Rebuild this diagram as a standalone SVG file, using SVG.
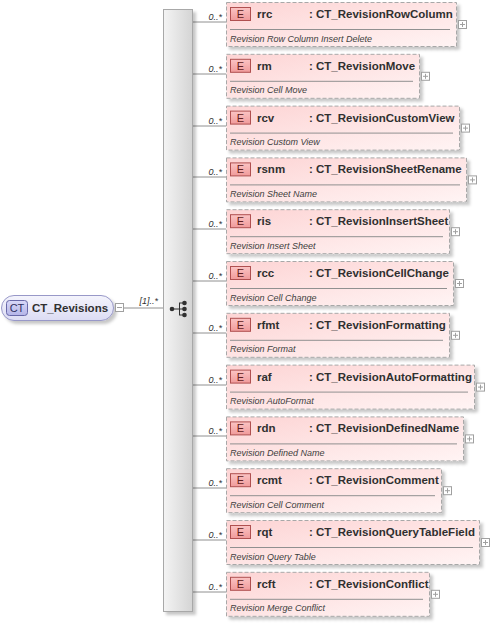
<svg xmlns="http://www.w3.org/2000/svg" width="490" height="623" viewBox="0 0 490 623">
<defs>
<linearGradient id="gEl" x1="0" y1="0" x2="1" y2="1"><stop offset="0" stop-color="#fdd4d4"/><stop offset="1" stop-color="#fff4f4"/></linearGradient>
<linearGradient id="gBadge" x1="0" y1="0" x2="0" y2="1"><stop offset="0" stop-color="#fbc4c4"/><stop offset="1" stop-color="#f09a9a"/></linearGradient>
<linearGradient id="gBar" x1="0" y1="0" x2="1" y2="0"><stop offset="0" stop-color="#f4f4f4"/><stop offset="1" stop-color="#d4d4d4"/></linearGradient>
<linearGradient id="gCT" x1="0" y1="0" x2="0" y2="1"><stop offset="0" stop-color="#f4f4fc"/><stop offset="1" stop-color="#dcdcf4"/></linearGradient>
<linearGradient id="gCTb" x1="0" y1="0" x2="0" y2="1"><stop offset="0" stop-color="#d8d8f8"/><stop offset="1" stop-color="#b4b4e8"/></linearGradient>
<filter id="sh" x="-10%" y="-10%" width="130%" height="140%"><feDropShadow dx="3" dy="3" stdDeviation="1.5" flood-color="#000" flood-opacity="0.22"/></filter>
</defs>
<style>
.el{fill:url(#gEl);stroke:#a8a8a8;stroke-width:1;stroke-dasharray:4,2;filter:url(#sh)}
.badge{fill:url(#gBadge);stroke:#b05050;stroke-width:1}
.bt{font-family:"Liberation Sans",Arial,sans-serif;font-size:11px;fill:#602020;text-anchor:middle}
.nm{font-family:"Liberation Sans",Arial,sans-serif;font-size:11.5px;font-weight:bold;fill:#303030}
.ds{font-family:"Liberation Sans",Arial,sans-serif;font-size:9px;font-style:italic;fill:#404040}
.sep{stroke:#909090;stroke-width:1}
.pl{fill:#fff;stroke:#a0a0a0;stroke-width:1}
.plx{stroke:#a0a0a0;stroke-width:1}
.cn{stroke:#909090;stroke-width:1;fill:none}
.oc{font-family:"Liberation Sans",Arial,sans-serif;font-size:9px;font-style:italic;fill:#303030;text-anchor:end}
</style>
<g id="connectors">
<line class="cn" x1="124" y1="308" x2="163" y2="308"/>
<line class="cn" x1="192" y1="22" x2="226" y2="22"/>
<line class="cn" x1="192" y1="74" x2="226" y2="74"/>
<line class="cn" x1="192" y1="126" x2="226" y2="126"/>
<line class="cn" x1="192" y1="177" x2="226" y2="177"/>
<line class="cn" x1="192" y1="229" x2="226" y2="229"/>
<line class="cn" x1="192" y1="281" x2="226" y2="281"/>
<line class="cn" x1="192" y1="333" x2="226" y2="333"/>
<line class="cn" x1="192" y1="385" x2="226" y2="385"/>
<line class="cn" x1="192" y1="436" x2="226" y2="436"/>
<line class="cn" x1="192" y1="488" x2="226" y2="488"/>
<line class="cn" x1="192" y1="540" x2="226" y2="540"/>
<line class="cn" x1="192" y1="592" x2="226" y2="592"/>
<text class="oc" x="158" y="304">[1]..*</text>
<text class="oc" x="222" y="20">0..*</text>
<text class="oc" x="222" y="72">0..*</text>
<text class="oc" x="222" y="124">0..*</text>
<text class="oc" x="222" y="175">0..*</text>
<text class="oc" x="222" y="227">0..*</text>
<text class="oc" x="222" y="279">0..*</text>
<text class="oc" x="222" y="331">0..*</text>
<text class="oc" x="222" y="383">0..*</text>
<text class="oc" x="222" y="434">0..*</text>
<text class="oc" x="222" y="486">0..*</text>
<text class="oc" x="222" y="538">0..*</text>
<text class="oc" x="222" y="590">0..*</text>
</g>
<g id="CT_Revisions">
<rect x="1.5" y="295.5" width="112" height="25" rx="12.5" fill="url(#gCT)" stroke="#9898c8" filter="url(#sh)"/>
<rect x="6.5" y="300.5" width="21" height="15" rx="3" fill="url(#gCTb)" stroke="#6868a8"/>
<text x="17" y="312" font-family="'Liberation Sans',Arial,sans-serif" font-size="11" fill="#303060" text-anchor="middle">CT</text>
<text class="nm" x="32" y="312">CT_Revisions</text>
<rect class="pl" x="115.5" y="303.5" width="8" height="8"/>
<line class="plx" x1="117" y1="307.5" x2="122" y2="307.5"/>
</g>
<g id="sequence">
<rect x="163.5" y="9.5" width="29" height="602" fill="url(#gBar)" stroke="#a8a8a8" filter="url(#sh)"/>
<circle cx="172" cy="309" r="2.3" fill="#303030"/>
<line x1="172" y1="309" x2="179" y2="309" stroke="#303030"/>
<line x1="179.5" y1="303" x2="179.5" y2="315" stroke="#303030"/>
<line x1="179" y1="303" x2="184" y2="303" stroke="#303030"/>
<line x1="179" y1="315" x2="184" y2="315" stroke="#303030"/>
<line x1="179" y1="309" x2="184" y2="309" stroke="#303030"/>
<circle cx="184.5" cy="303" r="2.3" fill="#303030"/>
<circle cx="184.5" cy="309" r="2.3" fill="#303030"/>
<circle cx="184.5" cy="315" r="2.3" fill="#303030"/>
</g>
<g id="rrc" transform="translate(0,2)">
<rect class="el" x="226.5" y="0.5" width="230" height="44"/>
<rect class="badge" x="230.5" y="5.5" width="20" height="13"/><text class="bt" x="240.5" y="16">E</text>
<text class="nm" x="257" y="16">rrc</text><text class="nm" x="309" y="16">: CT_RevisionRowColumn</text>
<line class="sep" x1="230" y1="27.5" x2="450" y2="27.5"/>
<text class="ds" x="230" y="39.5">Revision Row Column Insert Delete</text>
<rect class="pl" x="458.5" y="18.5" width="8" height="8"/><line class="plx" x1="460" y1="22.5" x2="465" y2="22.5"/><line class="plx" x1="462.5" y1="20" x2="462.5" y2="25"/>
</g>
<g id="rm" transform="translate(0,53.8)">
<rect class="el" x="226.5" y="0.5" width="193" height="44"/>
<rect class="badge" x="230.5" y="5.5" width="20" height="13"/><text class="bt" x="240.5" y="16">E</text>
<text class="nm" x="257" y="16">rm</text><text class="nm" x="309" y="16">: CT_RevisionMove</text>
<line class="sep" x1="230" y1="27.5" x2="413" y2="27.5"/>
<text class="ds" x="230" y="39.5">Revision Cell Move</text>
<rect class="pl" x="421.5" y="18.5" width="8" height="8"/><line class="plx" x1="423" y1="22.5" x2="428" y2="22.5"/><line class="plx" x1="425.5" y1="20" x2="425.5" y2="25"/>
</g>
<g id="rcv" transform="translate(0,105.6)">
<rect class="el" x="226.5" y="0.5" width="233" height="44"/>
<rect class="badge" x="230.5" y="5.5" width="20" height="13"/><text class="bt" x="240.5" y="16">E</text>
<text class="nm" x="257" y="16">rcv</text><text class="nm" x="309" y="16">: CT_RevisionCustomView</text>
<line class="sep" x1="230" y1="27.5" x2="453" y2="27.5"/>
<text class="ds" x="230" y="39.5">Revision Custom View</text>
<rect class="pl" x="461.5" y="18.5" width="8" height="8"/><line class="plx" x1="463" y1="22.5" x2="468" y2="22.5"/><line class="plx" x1="465.5" y1="20" x2="465.5" y2="25"/>
</g>
<g id="rsnm" transform="translate(0,157.4)">
<rect class="el" x="226.5" y="0.5" width="240" height="44"/>
<rect class="badge" x="230.5" y="5.5" width="20" height="13"/><text class="bt" x="240.5" y="16">E</text>
<text class="nm" x="257" y="16">rsnm</text><text class="nm" x="309" y="16">: CT_RevisionSheetRename</text>
<line class="sep" x1="230" y1="27.5" x2="460" y2="27.5"/>
<text class="ds" x="230" y="39.5">Revision Sheet Name</text>
<rect class="pl" x="468.5" y="18.5" width="8" height="8"/><line class="plx" x1="470" y1="22.5" x2="475" y2="22.5"/><line class="plx" x1="472.5" y1="20" x2="472.5" y2="25"/>
</g>
<g id="ris" transform="translate(0,209.2)">
<rect class="el" x="226.5" y="0.5" width="223" height="44"/>
<rect class="badge" x="230.5" y="5.5" width="20" height="13"/><text class="bt" x="240.5" y="16">E</text>
<text class="nm" x="257" y="16">ris</text><text class="nm" x="309" y="16">: CT_RevisionInsertSheet</text>
<line class="sep" x1="230" y1="27.5" x2="443" y2="27.5"/>
<text class="ds" x="230" y="39.5">Revision Insert Sheet</text>
<rect class="pl" x="451.5" y="18.5" width="8" height="8"/><line class="plx" x1="453" y1="22.5" x2="458" y2="22.5"/><line class="plx" x1="455.5" y1="20" x2="455.5" y2="25"/>
</g>
<g id="rcc" transform="translate(0,261)">
<rect class="el" x="226.5" y="0.5" width="227" height="44"/>
<rect class="badge" x="230.5" y="5.5" width="20" height="13"/><text class="bt" x="240.5" y="16">E</text>
<text class="nm" x="257" y="16">rcc</text><text class="nm" x="309" y="16">: CT_RevisionCellChange</text>
<line class="sep" x1="230" y1="27.5" x2="447" y2="27.5"/>
<text class="ds" x="230" y="39.5">Revision Cell Change</text>
<rect class="pl" x="455.5" y="18.5" width="8" height="8"/><line class="plx" x1="457" y1="22.5" x2="462" y2="22.5"/><line class="plx" x1="459.5" y1="20" x2="459.5" y2="25"/>
</g>
<g id="rfmt" transform="translate(0,312.8)">
<rect class="el" x="226.5" y="0.5" width="223" height="44"/>
<rect class="badge" x="230.5" y="5.5" width="20" height="13"/><text class="bt" x="240.5" y="16">E</text>
<text class="nm" x="257" y="16">rfmt</text><text class="nm" x="309" y="16">: CT_RevisionFormatting</text>
<line class="sep" x1="230" y1="27.5" x2="443" y2="27.5"/>
<text class="ds" x="230" y="39.5">Revision Format</text>
<rect class="pl" x="451.5" y="18.5" width="8" height="8"/><line class="plx" x1="453" y1="22.5" x2="458" y2="22.5"/><line class="plx" x1="455.5" y1="20" x2="455.5" y2="25"/>
</g>
<g id="raf" transform="translate(0,364.6)">
<rect class="el" x="226.5" y="0.5" width="248" height="44"/>
<rect class="badge" x="230.5" y="5.5" width="20" height="13"/><text class="bt" x="240.5" y="16">E</text>
<text class="nm" x="257" y="16">raf</text><text class="nm" x="309" y="16">: CT_RevisionAutoFormatting</text>
<line class="sep" x1="230" y1="27.5" x2="468" y2="27.5"/>
<text class="ds" x="230" y="39.5">Revision AutoFormat</text>
<rect class="pl" x="476.5" y="18.5" width="8" height="8"/><line class="plx" x1="478" y1="22.5" x2="483" y2="22.5"/><line class="plx" x1="480.5" y1="20" x2="480.5" y2="25"/>
</g>
<g id="rdn" transform="translate(0,416.4)">
<rect class="el" x="226.5" y="0.5" width="237" height="44"/>
<rect class="badge" x="230.5" y="5.5" width="20" height="13"/><text class="bt" x="240.5" y="16">E</text>
<text class="nm" x="257" y="16">rdn</text><text class="nm" x="309" y="16">: CT_RevisionDefinedName</text>
<line class="sep" x1="230" y1="27.5" x2="457" y2="27.5"/>
<text class="ds" x="230" y="39.5">Revision Defined Name</text>
<rect class="pl" x="465.5" y="18.5" width="8" height="8"/><line class="plx" x1="467" y1="22.5" x2="472" y2="22.5"/><line class="plx" x1="469.5" y1="20" x2="469.5" y2="25"/>
</g>
<g id="rcmt" transform="translate(0,468.2)">
<rect class="el" x="226.5" y="0.5" width="215" height="44"/>
<rect class="badge" x="230.5" y="5.5" width="20" height="13"/><text class="bt" x="240.5" y="16">E</text>
<text class="nm" x="257" y="16">rcmt</text><text class="nm" x="309" y="16">: CT_RevisionComment</text>
<line class="sep" x1="230" y1="27.5" x2="435" y2="27.5"/>
<text class="ds" x="230" y="39.5">Revision Cell Comment</text>
<rect class="pl" x="443.5" y="18.5" width="8" height="8"/><line class="plx" x1="445" y1="22.5" x2="450" y2="22.5"/><line class="plx" x1="447.5" y1="20" x2="447.5" y2="25"/>
</g>
<g id="rqt" transform="translate(0,520)">
<rect class="el" x="226.5" y="0.5" width="253" height="44"/>
<rect class="badge" x="230.5" y="5.5" width="20" height="13"/><text class="bt" x="240.5" y="16">E</text>
<text class="nm" x="257" y="16">rqt</text><text class="nm" x="309" y="16">: CT_RevisionQueryTableField</text>
<line class="sep" x1="230" y1="27.5" x2="473" y2="27.5"/>
<text class="ds" x="230" y="39.5">Revision Query Table</text>
<rect class="pl" x="481.5" y="18.5" width="8" height="8"/><line class="plx" x1="483" y1="22.5" x2="488" y2="22.5"/><line class="plx" x1="485.5" y1="20" x2="485.5" y2="25"/>
</g>
<g id="rcft" transform="translate(0,571.8)">
<rect class="el" x="226.5" y="0.5" width="203" height="44"/>
<rect class="badge" x="230.5" y="5.5" width="20" height="13"/><text class="bt" x="240.5" y="16">E</text>
<text class="nm" x="257" y="16">rcft</text><text class="nm" x="309" y="16">: CT_RevisionConflict</text>
<line class="sep" x1="230" y1="27.5" x2="423" y2="27.5"/>
<text class="ds" x="230" y="39.5">Revision Merge Conflict</text>
<rect class="pl" x="431.5" y="18.5" width="8" height="8"/><line class="plx" x1="433" y1="22.5" x2="438" y2="22.5"/><line class="plx" x1="435.5" y1="20" x2="435.5" y2="25"/>
</g>
</svg>
